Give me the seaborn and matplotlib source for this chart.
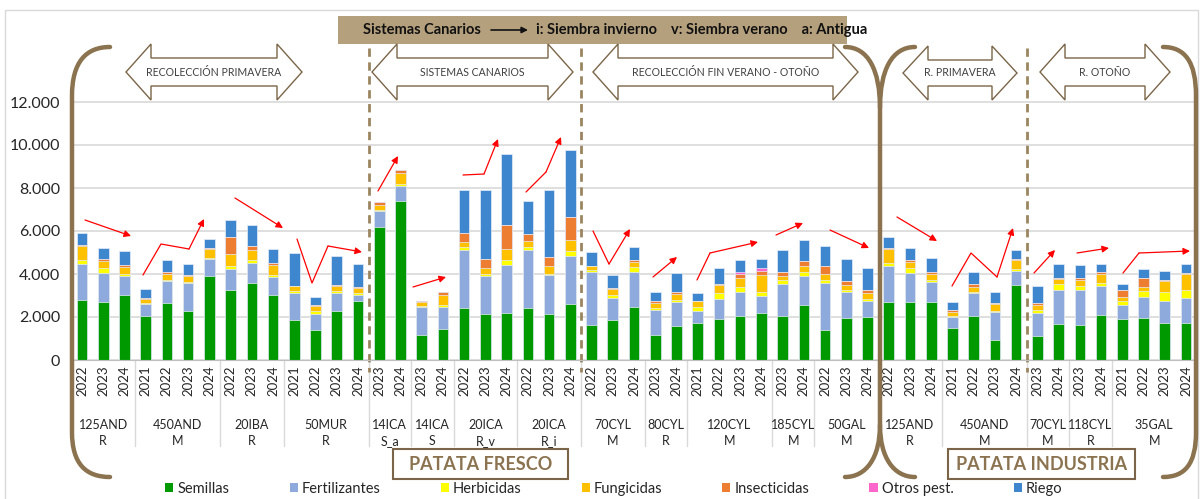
import numpy as np
import pandas as pd
import seaborn as sns
import matplotlib.pyplot as plt
from matplotlib.patches import Patch, Rectangle, Polygon, PathPatch, FancyArrowPatch
from matplotlib.path import Path
from matplotlib.transforms import Affine2D, blended_transform_factory
from matplotlib.ticker import FuncFormatter

W, H = 1201, 499

# 1. Data (cost per ha, stacked by input)
group_names = ["125AND\nR", "450AND\nM", "20IBA\nR", "50MUR\nR", "14ICA\nS_a", "14ICA\nS",
               "20ICA\nR_v", "20ICA\nR_i", "70CYL\nM", "80CYL\nR", "120CYL\nM", "185CYL\nM",
               "50GAL\nM", "125AND\nR", "450AND\nM", "70CYL\nM", "118CYL\nR", "35GAL\nM"]
group_years = [[2022, 2023, 2024], [2021, 2022, 2023, 2024], [2022, 2023, 2024],
               [2021, 2022, 2023, 2024], [2023, 2024], [2023, 2024], [2022, 2023, 2024],
               [2022, 2023, 2024], [2022, 2023, 2024], [2023, 2024], [2021, 2022, 2023, 2024],
               [2023, 2024], [2022, 2023, 2024], [2022, 2023, 2024], [2021, 2022, 2023, 2024],
               [2023, 2024], [2023, 2024], [2021, 2022, 2023, 2024]]

semillas = [2780, 2700, 3020, 2050, 2640, 2270, 3900, 3240, 3560, 3020, 1850, 1390, 2280, 2730,
            6200, 7410, 1160, 1430, 2440, 2130, 2190, 2440, 2130, 2590,
            1640, 1850, 2470, 1160, 1560, 1730, 1900, 2050, 2190, 2050, 2560, 1390, 1940, 1990,
            2690, 2690, 2690, 1480, 2050, 930, 3500, 1110, 1670, 1640, 2080, 1900, 1940, 1710, 1740]
fertilizantes = [1700, 1360, 880, 540, 1030, 1310, 790, 990, 970, 830, 1270, 770, 830, 310,
                 740, 660, 1310, 1030, 2690, 1770, 2250, 2690, 1810, 2270,
                 2440, 1020, 1620, 1160, 1130, 560, 960, 1130, 770, 1480, 1360, 2180, 1240, 740,
                 1670, 1370, 920, 520, 1070, 1280, 630, 1080, 1590, 1620, 1370, 650, 1000, 1020, 1130]
herbicidas = [150, 220, 110, 60, 60, 50, 60, 120, 140, 120, 90, 110, 120, 90,
              50, 110, 30, 110, 120, 80, 230, 120, 80, 190,
              90, 150, 230, 80, 90, 180, 260, 210, 190, 190, 150, 150, 60, 90,
              150, 200, 120, 60, 60, 60, 80, 150, 290, 170, 150, 190, 250, 430, 370]
fungicidas = [660, 340, 310, 170, 250, 290, 390, 560, 460, 460, 230, 250, 230, 230,
              220, 510, 200, 460, 220, 310, 490, 280, 350, 540,
              190, 260, 230, 260, 280, 260, 350, 420, 820, 190, 310, 260, 250, 280,
              650, 320, 280, 150, 220, 350, 420, 230, 200, 310, 400, 200, 200, 510, 740]
insecticidas = [80, 60, 80, 80, 110, 30, 90, 830, 190, 90, 20, 20, 20, 30,
                150, 140, 30, 140, 430, 400, 1130, 340, 420, 1050,
                30, 60, 80, 80, 110, 20, 50, 200, 170, 200, 220, 400, 200, 170,
                60, 80, 80, 110, 120, 20, 80, 60, 80, 90, 90, 310, 430, 60, 80]
otros = [0, 0, 0, 0, 0, 0, 0, 0, 0, 0, 0, 0, 0, 0,
         0, 0, 0, 0, 0, 0, 0, 0, 0, 0,
         0, 0, 0, 0, 0, 0, 0, 80, 120, 0, 0, 0, 0, 0,
         0, 0, 0, 0, 0, 0, 0, 0, 0, 0, 0, 0, 0, 0, 0]
riego = [520, 540, 660, 400, 540, 520, 400, 790, 940, 620, 1510, 370, 1370, 1080,
         0, 30, 0, 0, 2010, 3220, 3270, 1510, 3130, 3150,
         620, 620, 630, 420, 890, 370, 770, 540, 430, 990, 1000, 930, 1000, 1000,
         520, 560, 660, 360, 560, 510, 420, 820, 620, 590, 370, 280, 420, 430, 420]

series = ["Semillas", "Fertilizantes", "Herbicidas", "Fungicidas", "Insecticidas", "Otros pest.", "Riego"]
colors = ["#009A00", "#8EA9DB", "#FFFF00", "#FFC000", "#ED7D31", "#FF66CC", "#3E87CE"]

years = [y for g in group_years for y in g]
ids = [f"b{i}" for i in range(len(years))]
df = pd.DataFrame({"id": ids, "Semillas": semillas, "Fertilizantes": fertilizantes,
                   "Herbicidas": herbicidas, "Fungicidas": fungicidas,
                   "Insecticidas": insecticidas, "Otros pest.": otros, "Riego": riego})
cum = df[series].cumsum(axis=1)

# 2. Style
sns.set_style("white")
plt.rcParams['font.family'] = ['Lato', 'DejaVu Sans']

fig = plt.figure(figsize=(W / 100, H / 100), dpi=100)
ax = fig.add_axes([71.4 / W, 1 - 360 / H, 1125.2 / W, 301 / H])
px = Affine2D().scale(1 / W, -1 / H).translate(0, 1) + fig.transFigure
bx = blended_transform_factory(ax.transData, px)

# 3. Stacked bars (cumulative overlay, top layer first)
for name, col in reversed(list(zip(series, colors))):
    sns.barplot(x=df["id"], y=cum[name], order=ids, color=col, saturation=1, width=0.5,
                errorbar=None, ax=ax, edgecolor="#e6edf8", linewidth=0.5)

ax.set_xlim(-0.5, len(ids) - 0.5)
ax.set_ylim(0, 14000)
ax.set_xlabel("")
ax.set_ylabel("")
ax.set_xticks([])
ax.set_yticks(range(0, 12001, 2000))
ax.yaxis.set_major_formatter(FuncFormatter(lambda v, p: f"{int(v):,}".replace(",", ".")))
ax.tick_params(axis="y", length=0, pad=8, labelsize=11.5, labelcolor="#262626")
ax.yaxis.grid(True, color="#d9d9d9", lw=1.2)
ax.set_axisbelow(True)
for s in ["left", "top", "right"]:
    ax.spines[s].set_visible(False)
ax.spines["bottom"].set_color("#bfbfbf")

# 4. Category labels
for i, y in enumerate(years):
    ax.text(i, 381, str(y), transform=bx, rotation=90, ha="center", va="center",
            fontsize=9.5, color="#262626")
start = 0
bounds = [-0.5]
for name, g in zip(group_names, group_years):
    c = start + (len(g) - 1) / 2
    ax.text(c, 433, name, transform=bx, ha="center", va="center", fontsize=9,
            color="#262626", linespacing=1.45)
    start += len(g)
    bounds.append(start - 0.5)
for b in bounds:
    ax.plot([b, b], [361, 446], transform=bx, color="#d9d9d9", lw=1, clip_on=False)

# dashed separators
for b in [13.5, 23.5, 44.5]:
    ax.plot([b, b], [48, 372], transform=bx, color="#9b8560", lw=2, ls=(0, (3, 2)), clip_on=False)

# 5. Decorations: border, header, block arrows, brackets, boxes
fig.patches.append(Rectangle((5, 10), 1193, 500, transform=px, fill=False, ec="#d9d9d9", lw=1))
fig.patches.append(Rectangle((338, 16), 509, 28, transform=px, fc="#B5A07D", ec="none"))
fig.text(481, 30, "Sistemas Canarios", transform=px, ha="right", va="center",
         fontsize=10.5, weight="bold", color="#111111")
fig.text(536, 30, "i: Siembra invierno    v: Siembra verano    a: Antigua", transform=px,
         ha="left", va="center", fontsize=10.5, weight="bold", color="#111111")
fig.add_artist(FancyArrowPatch((491, 30), (528, 30), transform=px, arrowstyle="-|>",
                               color="#111111", lw=1.2, mutation_scale=9,
                               shrinkA=0, shrinkB=0, zorder=5))


def block_arrow(x0, x1, label, yt=44, yb=100, hl=25):
    yc = (yt + yb) / 2
    st, sb = yt + 14, yb - 14
    pts = [(x0, yc), (x0 + hl, yt), (x0 + hl, st), (x1 - hl, st), (x1 - hl, yt), (x1, yc),
           (x1 - hl, yb), (x1 - hl, sb), (x0 + hl, sb), (x0 + hl, yb)]
    fig.patches.append(Polygon(pts, closed=True, transform=px, fc="white", ec="#7a6548", lw=1))
    fig.text((x0 + x1) / 2, yc, label, transform=px, ha="center", va="center",
             fontsize=7.6, color="#404040")


block_arrow(126, 302, "RECOLECCIÓN PRIMAVERA")
block_arrow(372, 573, "SISTEMAS CANARIOS")
block_arrow(593, 858, "RECOLECCIÓN FIN VERANO - OTOÑO")
block_arrow(903, 1017, "R. PRIMAVERA", yt=46)
block_arrow(1040, 1170, "R. OTOÑO")

brown = "#8B7350"
M, C, L = Path.MOVETO, Path.CURVE4, Path.LINETO
brackets = [
    ([(110, 47), (86, 47), (72, 62), (72, 96), (72, 432), (72, 464), (86, 477), (110, 477)],
     [M, C, C, C, L, C, C, C]),
    ([(845, 47), (868, 47), (880, 70), (880, 108), (880, 425), (880, 458), (866, 477), (845, 477)],
     [M, C, C, C, L, C, C, C]),
    ([(915, 47), (892, 47), (880, 70), (880, 108)], [M, C, C, C]),
    ([(880, 425), (880, 458), (894, 477), (915, 477)], [M, C, C, C]),
    ([(1163, 47), (1185, 47), (1196, 62), (1196, 96), (1196, 432), (1196, 464), (1185, 477), (1163, 477)],
     [M, C, C, C, L, C, C, C]),
]
for verts, codes in brackets:
    fig.patches.append(PathPatch(Path(verts, codes), transform=px, fill=False, ec=brown,
                                 lw=3.2, capstyle="round"))

for x0, w, label in [(393, 175, "PATATA FRESCO"), (948, 187, "PATATA INDUSTRIA")]:
    fig.patches.append(Rectangle((x0, 449), w, 30, transform=px, fc="white", ec="#7a6548", lw=1.5))
    fig.text(x0 + w / 2, 465, label, transform=px, ha="center", va="center",
             fontsize=13, weight="bold", color=brown)

# 6. Red trend arrows
trends = [
    [(85, 220), (131, 236)],
    [(143, 275), (161, 244), (189, 249), (204, 219)],
    [(235, 198), (283, 228)],
    [(297, 239), (312, 283), (328, 246), (362, 252)],
    [(378, 191), (398, 156)],
    [(413, 287), (446, 277)],
    [(463, 175), (484, 174), (498, 139)],
    [(526, 192), (546, 172), (561, 137)],
    [(593, 231), (609, 264), (630, 229)],
    [(653, 277), (677, 257)],
    [(697, 280), (710, 253), (758, 242)],
    [(776, 235), (803, 223)],
    [(830, 230), (869, 248)],
    [(897, 217), (937, 241)],
    [(952, 286), (971, 253), (997, 277), (1013, 228)],
    [(1034, 273), (1055, 250)],
    [(1077, 253), (1109, 248)],
    [(1123, 273), (1139, 253), (1190, 251)],
]
for pts in trends:
    xs, ys = zip(*pts[:-1])
    if len(pts) > 2:
        ax.plot(xs, ys, transform=px, color="red", lw=0.9, clip_on=False)
    ax.annotate("", xy=pts[-1], xytext=pts[-2], xycoords=px, textcoords=px,
                annotation_clip=False,
                arrowprops=dict(arrowstyle="-|>", color="red", lw=0.9, mutation_scale=10,
                                shrinkA=0, shrinkB=0))

# 7. Legend
handles = [Patch(facecolor=c, edgecolor="none") for c in colors]
fig.legend(handles, series, loc="center", bbox_to_anchor=(614 / W, 1 - 489 / H), ncol=7,
           frameon=False, fontsize=10.5, handlelength=0.55, handleheight=0.55,
           handletextpad=0.3, columnspacing=4.1, borderaxespad=0, borderpad=0)

fig.savefig("out.png", dpi=100)
